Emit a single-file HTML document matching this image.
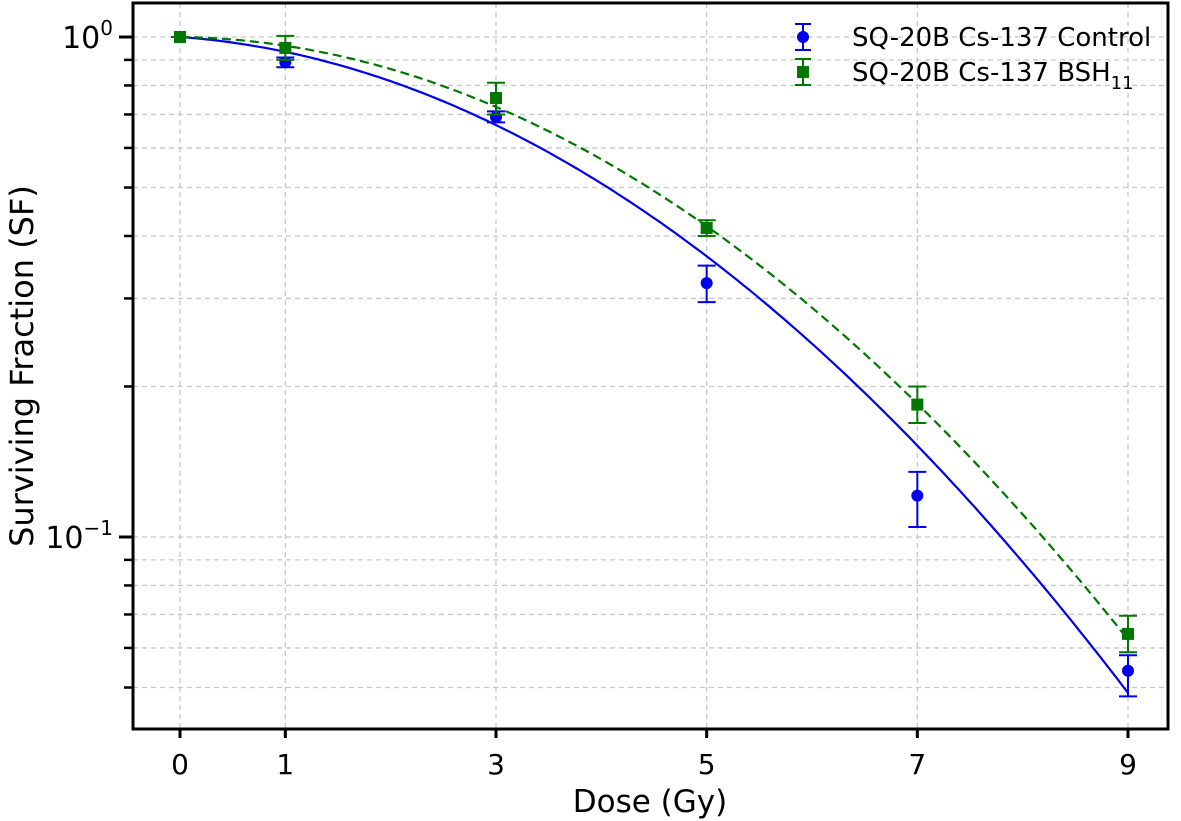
<!DOCTYPE html>
<html><head><meta charset="utf-8"><style>
body{margin:0;background:#fff}
svg{display:block;font-family:"DejaVu Sans","Liberation Sans",sans-serif}
</style></head><body>
<svg id="chart" width="1181" height="821" viewBox="0 0 1181 821"></svg>
<script>
const doses=[0,1,3,5,7,9];
const ctrlSF=[1.0,0.89,0.692,0.322,0.121,0.054];
const ctrlLo=[1.0,0.87,0.675,0.295,0.1047,0.048];
const ctrlHi=[1.0,0.91,0.71,0.349,0.135,0.058];
const bshSF=[1.0,0.951,0.755,0.415,0.184,0.064];
const bshLo=[1.0,0.9,0.70,0.40,0.169,0.0588];
const bshHi=[1.0,1.005,0.81,0.43,0.2,0.0696];
const ctrlFit=[0.035,0.0334];
const bshFit=[0.0068,0.0335];
const xTicks=[0,1,3,5,7,9];
const yMinor=[0.05,0.06,0.07,0.08,0.09,0.2,0.3,0.4,0.5,0.6,0.7,0.8,0.9];

const L=133,R=1168,T=3,B=729;
const X=d=>180+d*(1128-180)/9;
const Y=v=>37-500*Math.log10(v);
const NS="http://www.w3.org/2000/svg";
const svg=document.getElementById('chart');
function el(tag,attrs,parent){const e=document.createElementNS(NS,tag);for(const k in attrs)e.setAttribute(k,attrs[k]);(parent||svg).appendChild(e);return e;}

const grid=el('g',{});


xTicks.forEach(d=>el('line',{x1:X(d),x2:X(d),y1:T,y2:B,stroke:'#c8c8c8','stroke-width':1.3,'stroke-dasharray':'5,4'},grid));
[0.1,1].concat(yMinor).forEach(v=>el('line',{x1:L,x2:R,y1:Y(v),y2:Y(v),stroke:'#c8c8c8','stroke-width':1.3,'stroke-dasharray':'5,4'},grid));

function curve(fit,color,dash,name){
  let p='';for(let i=0;i<=180;i++){const d=9*i/180;const v=Math.exp(-fit[0]*d-fit[1]*d*d);p+=(i?'L':'M')+X(d).toFixed(1)+','+Y(v).toFixed(1);}
  const c=el('path',{d:p,fill:'none',stroke:color,'stroke-width':2.2,'stroke-dasharray':dash});
  
  
}
curve(ctrlFit,'#0000ee','none','control-fit-curve');
curve(bshFit,'#007700','9,5','bsh-fit-curve');

function series(sf,lo,hi,color,square,name){
  const g=el('g',{});
  
  
  doses.forEach((d,i)=>{
    const x=X(d);
    el('line',{x1:x,x2:x,y1:Y(lo[i]),y2:Y(hi[i]),stroke:color,'stroke-width':2},g);
    el('line',{x1:x-9,x2:x+9,y1:Y(lo[i]),y2:Y(lo[i]),stroke:color,'stroke-width':2},g);
    el('line',{x1:x-9,x2:x+9,y1:Y(hi[i]),y2:Y(hi[i]),stroke:color,'stroke-width':2},g);
    const m=square?el('rect',{x:x-6,y:Y(sf[i])-6,width:12,height:12,fill:color},g):el('circle',{cx:x,cy:Y(sf[i]),r:6,fill:color},g);
    
    
  });
}
series(ctrlSF,ctrlLo,ctrlHi,'#0000ee',false,'control-series');
series(bshSF,bshLo,bshHi,'#007700',true,'bsh-series');

const ax=el('g',{});


el('rect',{x:L,y:T,width:R-L,height:B-T,fill:'none',stroke:'#000','stroke-width':3},ax);
xTicks.forEach(d=>{
  el('line',{x1:X(d),x2:X(d),y1:B,y2:B+9,stroke:'#000','stroke-width':3},ax);
  const t=el('text',{x:X(d),y:B+45,'font-size':28,'text-anchor':'middle'},ax);t.textContent=d;
  
  
});
[0.1,1].forEach(v=>el('line',{x1:L-14,x2:L,y1:Y(v),y2:Y(v),stroke:'#000','stroke-width':3},ax));
yMinor.forEach(v=>el('line',{x1:L-9,x2:L,y1:Y(v),y2:Y(v),stroke:'#000','stroke-width':2.5},ax));
[[1,'0'],[0.1,'−1']].forEach(([v,e])=>{
  const t=el('text',{x:L-20,y:Y(v)+11,'font-size':30,'text-anchor':'end'},ax);
  t.innerHTML='10<tspan dy="-13" font-size="20">'+e+'</tspan>';
  
  
});
const xt=el('text',{x:650,y:812,'font-size':31,'text-anchor':'middle'});xt.textContent='Dose (Gy)';


const yt=el('text',{x:0,y:0,'font-size':32,'text-anchor':'middle',transform:'translate(33,366) rotate(-90)'});yt.textContent='Surviving Fraction (SF)';



const lg=el('g',{});


[[37,'#0000ee',false,'SQ-20B Cs-137 Control'],[72,'#007700',true,'SQ-20B Cs-137 BSH']].forEach(([y,c,sq,lab])=>{
  el('line',{x1:803,x2:803,y1:y-13,y2:y+13,stroke:c,'stroke-width':2},lg);
  el('line',{x1:795,x2:811,y1:y-13,y2:y-13,stroke:c,'stroke-width':2},lg);
  el('line',{x1:795,x2:811,y1:y+13,y2:y+13,stroke:c,'stroke-width':2},lg);
  if(sq)el('rect',{x:797,y:y-6,width:12,height:12,fill:c},lg);else el('circle',{cx:803,cy:y,r:6,fill:c},lg);
  const t=el('text',{x:852,y:y+9,'font-size':26},lg);
  t.innerHTML=lab+(sq?'<tspan dy="8" font-size="18">11</tspan>':'');
  
  
});
</script>
</body></html>
